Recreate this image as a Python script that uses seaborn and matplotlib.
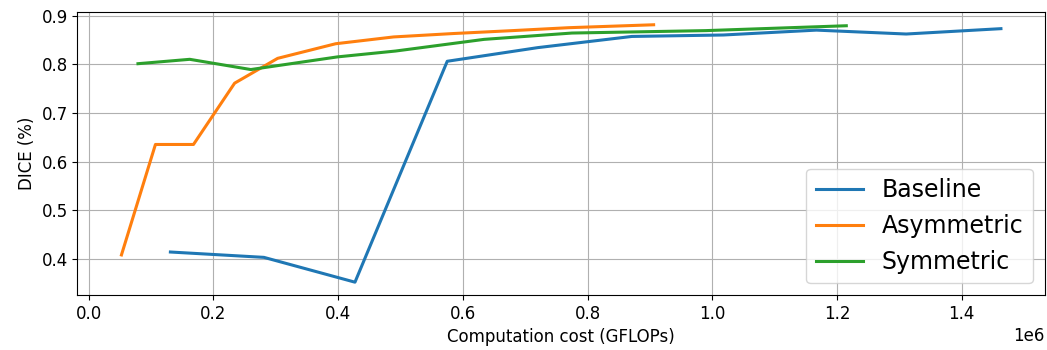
import pandas as pd
import seaborn as sns
import matplotlib.pyplot as plt

# Values (x in GFLOPs, y = DICE)
baseline_x = [131000, 281000, 427000, 575000, 720000, 871000, 1018000, 1167000, 1311000, 1463000]
baseline_y = [0.414, 0.403, 0.352, 0.806, 0.834, 0.857, 0.860, 0.870, 0.862, 0.873]

asym_x = [52500, 107000, 168000, 234000, 303000, 396000, 489000, 585000, 680000, 770000, 906000]
asym_y = [0.408, 0.635, 0.635, 0.761, 0.812, 0.842, 0.856, 0.863, 0.869, 0.875, 0.881]

sym_x = [79000, 162000, 260000, 399000, 492000, 634000, 775000, 990000, 1215000]
sym_y = [0.801, 0.810, 0.789, 0.815, 0.827, 0.851, 0.864, 0.869, 0.879]

series = ["Baseline", "Asymmetric", "Symmetric"]

df = pd.concat([
    pd.DataFrame({"cost": baseline_x, "dice": baseline_y, "method": series[0]}),
    pd.DataFrame({"cost": asym_x, "dice": asym_y, "method": series[1]}),
    pd.DataFrame({"cost": sym_x, "dice": sym_y, "method": series[2]}),
])

plt.rcParams["font.size"] = 12

fig, ax = plt.subplots(figsize=(10.47, 3.5), dpi=100)
sns.lineplot(data=df, x="cost", y="dice", hue="method", hue_order=series,
             palette=["#1f77b4", "#ff7f0e", "#2ca02c"], estimator=None,
             sort=False, linewidth=2.2, ax=ax)
ax.set_xlabel("Computation cost (GFLOPs)", fontsize=12)
ax.set_ylabel("DICE (%)", fontsize=12)
ax.tick_params(labelsize=12)
ax.grid(True)
ax.legend(title=None, fontsize=17, loc="lower right")
plt.subplots_adjust(left=0.074, right=0.998, top=0.966, bottom=0.157)
plt.savefig("out.png")
plt.close()
